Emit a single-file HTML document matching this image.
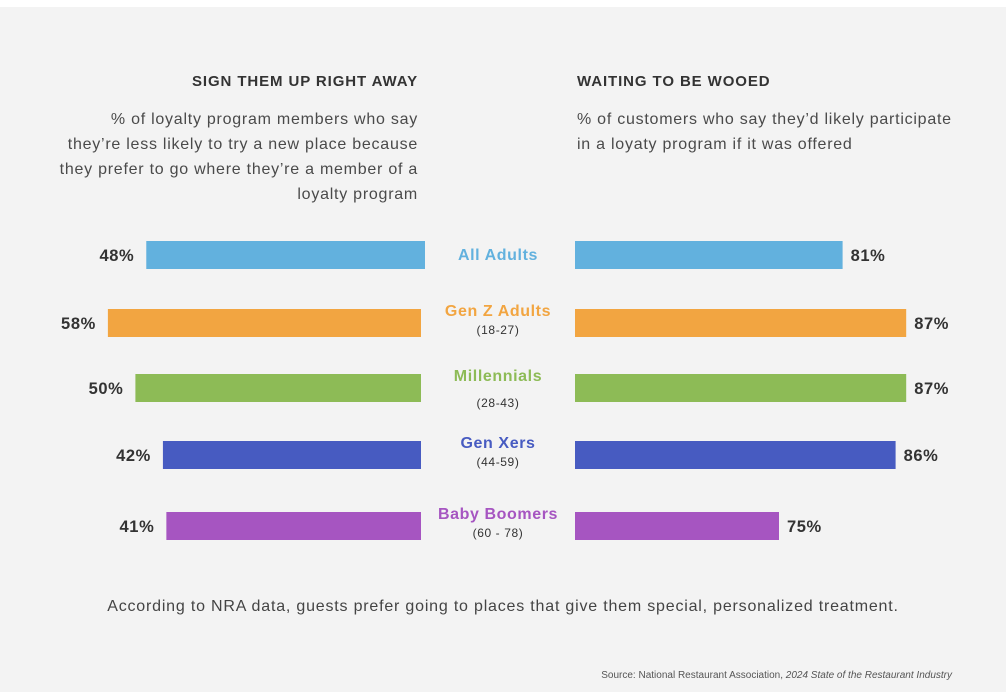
<!DOCTYPE html>
<html><head><meta charset="utf-8"><style>
body{margin:0;width:1006px;height:692px;background:#fff;font-family:"Liberation Sans",sans-serif;overflow:hidden}
#bg{position:absolute;left:0;top:7px;width:1006px;height:685px;background:#f3f3f3}
.t{position:absolute;white-space:nowrap}
.h{font-weight:bold;font-size:15px;color:#333;top:73px;letter-spacing:0.9px}
.sub{font-size:16px;color:#4a4a4a;line-height:25px;letter-spacing:0.75px}
svg text{letter-spacing:0.6px}
</style></head><body>
<div id="bg"></div>
<div class="t h" style="right:588px">SIGN THEM UP RIGHT AWAY</div>
<div class="t sub" style="right:588px;top:107px;text-align:right">% of loyalty program members who say<br>they’re less likely to try a new place because<br>they prefer to go where they’re a member of a<br>loyalty program</div>
<div class="t h" style="left:577px">WAITING TO BE WOOED</div>
<div class="t sub" style="left:577px;top:107px">% of customers who say they’d likely participate<br>in a loyaty program if it was offered</div>
<svg id="chart" width="1006" height="692" style="position:absolute;left:0;top:0"></svg>
<div class="t" style="left:0;width:1006px;text-align:center;top:598px;font-size:16px;color:#444;letter-spacing:0.8px">According to NRA data, guests prefer going to places that give them special, personalized treatment.</div>
<div class="t" style="right:54px;top:670px;font-size:10px;color:#555">Source: National Restaurant Association, <i>2024 State of the Restaurant Industry</i></div>
<script>
const categories=["All Adults","Gen Z Adults","Millennials","Gen Xers","Baby Boomers"];
const ages=["","(18-27)","(28-43)","(44-59)","(60 - 78)"];
const leftValues=[48,58,50,42,41];
const rightValues=[81,87,87,86,75];
const colors=["#62b1de","#f2a541","#8dbb56","#475bc1","#a655c1"];
const rowY=[255,323,388,455,526];
const lw=v=>113.6+3.44*v, rw=v=>-591+10.6*v;
const svg=document.getElementById('chart');const NS='http://www.w3.org/2000/svg';
function mk(tag,a,txt){const e=document.createElementNS(NS,tag);for(const k in a)e.setAttribute(k,a[k]);if(txt!=null)e.textContent=txt;svg.appendChild(e);return e;}
categories.forEach((c,i)=>{
 const y=rowY[i]-14, w=lw(leftValues[i]), x0=i==0?425:421;
 const b=mk('rect',{x:x0-w,y:y,width:w,height:28,fill:colors[i]});
 
 
 const lt=mk('text',{x:x0-w-12,y:rowY[i]+6,'text-anchor':'end','font-size':16.5,'font-weight':'bold',fill:'#333'},leftValues[i]+'%');
 
 
 const w2=rw(rightValues[i]), x1=575;
 const b2=mk('rect',{x:x1,y:y,width:w2,height:28,fill:colors[i]});
 
 
 const rt=mk('text',{x:x1+w2+8,y:rowY[i]+6,'font-size':16.5,'font-weight':'bold',fill:'#333'},rightValues[i]+'%');
 
 
 const cy=ages[i]?rowY[i]-7:rowY[i]+5;
 const ct=mk('text',{x:498,y:cy,'text-anchor':'middle','font-size':16,'font-weight':'bold',fill:colors[i]},c);
 
 
 if(ages[i]){const at=mk('text',{x:498,y:rowY[i]+(i==2?19:11),'text-anchor':'middle','font-size':12,fill:'#333'},ages[i]);
 
 }
});
</script>
</body></html>
